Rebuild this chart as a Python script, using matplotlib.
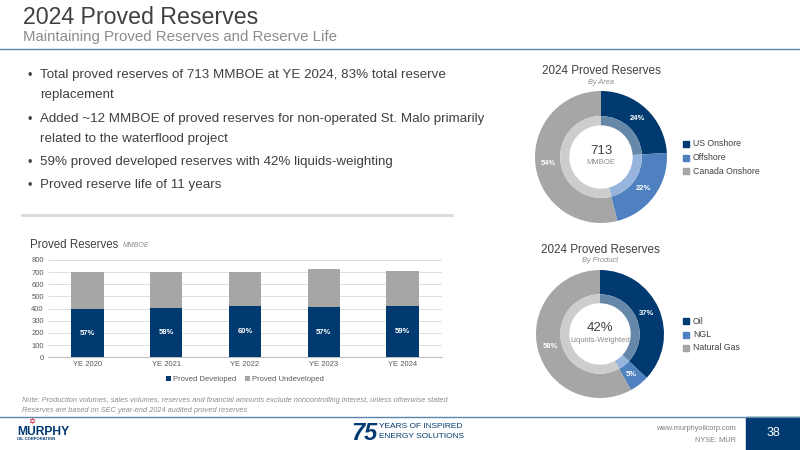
import matplotlib
matplotlib.use("Agg")
import matplotlib.pyplot as plt
from matplotlib.patches import Rectangle

plt.rcParams['font.family'] = ['Liberation Sans', 'DejaVu Sans']

# bar chart data (MMBOE)
years = ["YE 2020", "YE 2021", "YE 2022", "YE 2023", "YE 2024"]
developed = [399, 406, 419, 413, 421]
undeveloped = [301, 294, 279, 311, 292]
developed_pct = ["57%", "58%", "60%", "57%", "59%"]

# donut data
area_labels = ["US Onshore", "Offshore", "Canada Onshore"]
area_values = [24, 22, 54]
product_labels = ["Oil", "NGL", "Natural Gas"]
product_values = [37, 5, 58]

bullets = [
    "Total proved reserves of 713 MMBOE at YE 2024, 83% total reserve\nreplacement",
    "Added ~12 MMBOE of proved reserves for non-operated St. Malo primarily\nrelated to the waterflood project",
    "59% proved developed reserves with 42% liquids-weighting",
    "Proved reserve life of 11 years",
]

NAVY = "#003a70"
BLUE = "#4f81c0"
GRAY = "#a6a6a6"
INNER = ["#6688a8", "#97b4dc", "#cdcdcd"]
W, H = 800, 450

fig = plt.figure(figsize=(8, 4.5), dpi=100)


def px(x, y):
    return x / W, 1 - y / H


def ftext(x, y, s, **kw):
    fx, fy = px(x, y)
    fig.text(fx, fy, s, **kw)


def hline(x0, x1, y, **kw):
    fx0, fy = px(x0, y)
    fx1, _ = px(x1, y)
    fig.add_artist(plt.Line2D([fx0, fx1], [fy, fy], transform=fig.transFigure, **kw))


# header
ftext(23, 17, "2024 Proved Reserves", fontsize=16.7, color="#404040", va="center")
ftext(23, 37, "Maintaining Proved Reserves and Reserve Life", fontsize=10.8, color="#8c8c8c", va="center")
hline(0, 800, 49, color="#5b86ad", lw=1)

# bullets
ys = [77, 121, 164, 187]
for y, b in zip(ys, bullets):
    ftext(27, y - 1, "\u2022", fontsize=9, color="#404040", va="center")
    ftext(40, y - 8, b, fontsize=9.6, color="#404040", va="top", linespacing=1.85)
hline(22, 452, 215, color="#d9d9d9", lw=2)

# bar chart
ax = fig.add_axes([48 / W, 1 - 357.3 / H, 394 / W, 97.3 / H])
x = range(len(years))
ax.bar(x, developed, width=0.41, color=NAVY, label="Proved Developed", zorder=3)
ax.bar(x, undeveloped, width=0.41, bottom=developed, color=GRAY, label="Proved Undeveloped", zorder=3)
for i, (d, p) in enumerate(zip(developed, developed_pct)):
    ax.text(i, d / 2, p, ha="center", va="center", color="white", fontsize=5.5, fontweight="bold", zorder=4)
ax.set_xlim(-0.5, 4.5)
ax.set_ylim(0, 800)
ax.set_yticks(range(0, 801, 100))
ax.set_xticks(list(x))
ax.set_xticklabels(years)
ax.tick_params(axis="both", labelsize=5.5, colors="#595959", length=0, pad=3)
ax.grid(axis="y", color="#d9d9d9", lw=0.6, zorder=0)
for s in ["top", "right", "left"]:
    ax.spines[s].set_visible(False)
ax.spines["bottom"].set_color("#bfbfbf")
ax.legend(loc="upper center", bbox_to_anchor=(0.5, -0.12), ncol=2, frameon=False,
          fontsize=5.5, handlelength=0.6, handleheight=0.6, handletextpad=0.3,
          columnspacing=1.2, labelcolor="#595959")
ftext(30, 245, "Proved Reserves", fontsize=8.3, color="#404040", va="center")
ftext(123, 246, "MMBOE", fontsize=5, color="#8c8c8c", va="center", style="italic")

ftext(22, 400, "Note: Production volumes, sales volumes, reserves and financial amounts exclude noncontrolling interest, unless otherwise stated",
      fontsize=5.3, color="#8c8c8c", style="italic", va="center")
ftext(22, 411, "Reserves are based on SEC year-end 2024 audited proved reserves",
      fontsize=5.3, color="#8c8c8c", style="italic", va="center")


# donuts
def donut(cx, cy, r, values, labels, title, sub, c1, c2, leg_y):
    a = fig.add_axes([(cx - r) / W, 1 - (cy + r) / H, 2 * r / W, 2 * r / H])
    a.pie(values, colors=[NAVY, BLUE, GRAY], startangle=90, counterclock=False,
          radius=1, wedgeprops=dict(width=0.38, edgecolor="none"),
          autopct="%.0f%%", pctdistance=0.8,
          textprops=dict(color="white", fontsize=5.5, fontweight="bold"))
    a.pie(values, colors=INNER, startangle=90, counterclock=False,
          radius=0.62, wedgeprops=dict(width=0.14, edgecolor="none"))
    a.set_xlim(-1, 1)
    a.set_ylim(-1, 1)
    a.set_aspect("equal")
    ftext(cx, cy - r - 20, title, fontsize=8.4, color="#404040", ha="center", va="center")
    ftext(cx, cy - r - 9, sub, fontsize=5.3, color="#8c8c8c", ha="center", va="center", style="italic")
    ftext(cx, cy - 6, c1, fontsize=9.5, color="#404040", ha="center", va="center")
    ftext(cx, cy + 6, c2, fontsize=5.5, color="#8c8c8c", ha="center", va="center")
    for i, (lab, col) in enumerate(zip(labels, [NAVY, BLUE, GRAY])):
        yy = leg_y + i * 13.5
        fx, fy = px(683, yy + 3)
        fig.add_artist(Rectangle((fx, fy), 6 / W, 6 / H, transform=fig.transFigure, color=col))
        ftext(693, yy, lab, fontsize=6.3, color="#404040", va="center")


donut(601, 157, 66, area_values, area_labels, "2024 Proved Reserves", "By Area", "713", "MMBOE", 144)
donut(600, 334, 64, product_values, product_labels, "2024 Proved Reserves", "By Product", "42%", "Liquids-Weighted", 321)

# footer
hline(0, 800, 417, color="#5b86ad", lw=1)
fig.add_artist(Rectangle(px(746, 450), 54 / W, 33 / H, transform=fig.transFigure, color=NAVY))
ftext(773, 433, "38", fontsize=9, color="white", ha="center", va="center")
ftext(736, 428, "www.murphyoilcorp.com", fontsize=5.3, color="#7f7f7f", ha="right", va="center")
ftext(736, 440, "NYSE: MUR", fontsize=5.3, color="#7f7f7f", ha="right", va="center")
ftext(32, 422, "\u2721", fontsize=6, color="#c8102e", ha="center", va="center")
ftext(17, 432, "MURPHY", fontsize=8.7, color=NAVY, fontweight="bold", va="center")
ftext(17, 439.5, "OIL CORPORATION", fontsize=3, color=NAVY, fontweight="bold", va="center")
ftext(351, 433, "75", fontsize=17, color=NAVY, fontweight="bold", style="italic", va="center")
ftext(379, 427, "YEARS OF INSPIRED", fontsize=6, color=NAVY, va="center")
ftext(379, 437, "ENERGY SOLUTIONS", fontsize=6, color=NAVY, va="center")

fig.savefig("out.png", dpi=100)
